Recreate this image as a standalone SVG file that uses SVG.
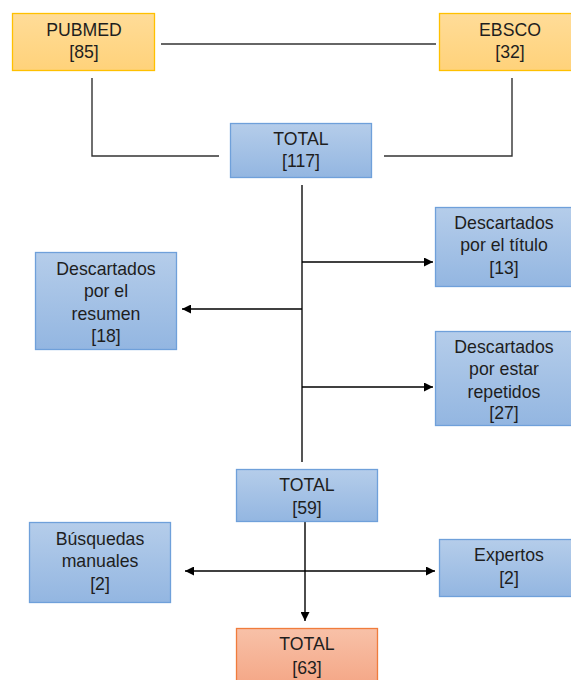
<svg xmlns="http://www.w3.org/2000/svg" width="571" height="680" viewBox="0 0 571 680">
<defs>
<linearGradient id="gO" x1="0" y1="0" x2="0" y2="1"><stop offset="0" stop-color="#FFDC98"/><stop offset="1" stop-color="#FFD27A"/></linearGradient>
<linearGradient id="gB" x1="0" y1="0" x2="0" y2="1"><stop offset="0" stop-color="#B5CDEA"/><stop offset="1" stop-color="#93B6E1"/></linearGradient>
<linearGradient id="gS" x1="0" y1="0" x2="0" y2="1"><stop offset="0" stop-color="#F8C1A8"/><stop offset="1" stop-color="#F4A584"/></linearGradient>
<marker id="ah" viewBox="0 0 10 10" refX="10" refY="5" markerWidth="9" markerHeight="9" markerUnits="userSpaceOnUse" orient="auto-start-reverse"><path d="M0,0 L10,5 L0,10 z" fill="#000"/></marker>
</defs>
<style>
.o{fill:url(#gO);stroke:#FFC000;stroke-width:1.3}
.b{fill:url(#gB);stroke:#6FA0DA;stroke-width:1.3}
.s{fill:url(#gS);stroke:#F07C3C;stroke-width:1.3}
text{font-family:"Liberation Sans",Arial,sans-serif;font-size:17.7px;fill:#1e1e1e;text-anchor:middle}
.ln{stroke:#333;stroke-width:1.4;fill:none}
.gl{stroke:#555;stroke-width:2;fill:none}
.ar{stroke:#000;stroke-width:1.4;fill:none}
</style>
<g id="connectors">
<line class="ln" x1="161" y1="44" x2="436" y2="44"/>
<polyline class="ln" points="92,78 92,156 219,156"/>
<polyline class="ln" points="512,78 512,156 384,156"/>
<line class="gl" x1="302" y1="185" x2="302" y2="462"/>
<line class="ar" x1="302" y1="262" x2="433" y2="262" marker-end="url(#ah)"/>
<line class="ar" x1="302" y1="309" x2="182" y2="309" marker-end="url(#ah)"/>
<line class="ar" x1="302" y1="387" x2="433" y2="387" marker-end="url(#ah)"/>
<line class="ar" x1="305" y1="522" x2="305" y2="621" marker-end="url(#ah)"/>
<line class="ar" x1="185" y1="571" x2="435" y2="571" marker-start="url(#ah)" marker-end="url(#ah)"/>
</g>
<g id="pubmed"><rect class="o" x="12.5" y="13.5" width="142" height="57"/><text x="84" y="36">PUBMED</text><text x="84" y="58">[85]</text></g>
<g id="ebsco"><rect class="o" x="439.5" y="13.5" width="140" height="57"/><text x="510" y="36">EBSCO</text><text x="510" y="58">[32]</text></g>
<g id="total117"><rect class="b" x="230.5" y="123.5" width="141" height="54"/><text x="301" y="145">TOTAL</text><text x="301" y="167">[117]</text></g>
<g id="titulo"><rect class="b" x="435.5" y="207.5" width="142" height="79"/><text x="504" y="229">Descartados</text><text x="504" y="251">por el título</text><text x="504" y="274">[13]</text></g>
<g id="resumen"><rect class="b" x="35.5" y="252.5" width="141" height="97"/><text x="106" y="275">Descartados</text><text x="106" y="297">por el</text><text x="106" y="320">resumen</text><text x="106" y="342">[18]</text></g>
<g id="repetidos"><rect class="b" x="435.5" y="331.5" width="142" height="94"/><text x="504" y="353">Descartados</text><text x="504" y="375">por estar</text><text x="504" y="398">repetidos</text><text x="504" y="419">[27]</text></g>
<g id="total59"><rect class="b" x="236.5" y="469.5" width="141" height="52"/><text x="307" y="491">TOTAL</text><text x="307" y="514">[59]</text></g>
<g id="busquedas"><rect class="b" x="29.5" y="522.5" width="141" height="80"/><text x="100" y="545">Búsquedas</text><text x="100" y="567">manuales</text><text x="100" y="590">[2]</text></g>
<g id="expertos"><rect class="b" x="439.5" y="539.5" width="140" height="57"/><text x="509" y="561">Expertos</text><text x="509" y="584">[2]</text></g>
<g id="total63"><rect class="s" x="236.5" y="628.5" width="141" height="60"/><text x="307" y="650">TOTAL</text><text x="307" y="674">[63]</text></g>
</svg>
